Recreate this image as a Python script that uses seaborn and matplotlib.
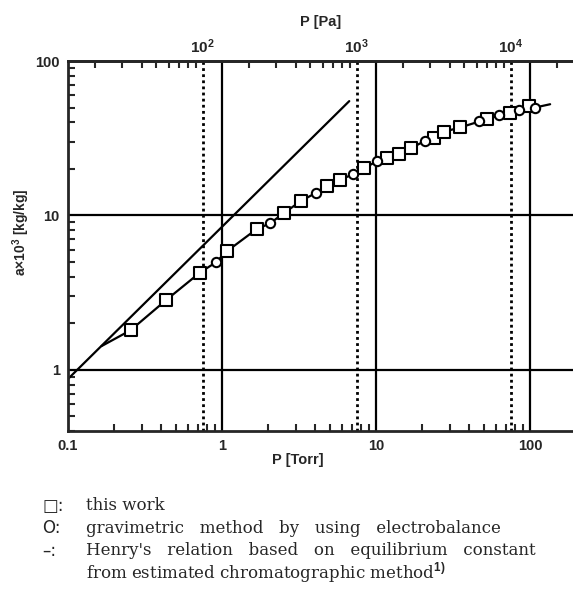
import numpy as np
import pandas as pd
import seaborn as sns
import matplotlib.pyplot as plt
from matplotlib.ticker import LogLocator, NullFormatter, FixedLocator

# this work (squares)
sq_p = [0.255, 0.433, 0.72, 1.08, 1.68, 2.54, 3.26, 4.78, 5.84, 8.36, 11.8, 14.0,
        16.8, 23.8, 27.8, 35.1, 52.3, 74.1, 98.9]
sq_a = [1.80, 2.82, 4.26, 5.87, 8.15, 10.4, 12.4, 15.4, 16.9, 20.2, 23.5, 25.0,
        27.2, 31.9, 34.9, 37.1, 42.2, 46.0, 50.8]
# electrobalance (circles)
ci_p = [0.91, 2.05, 4.08, 7.06, 10.2, 20.8, 46.9, 63.2, 85.3, 108]
ci_a = [4.95, 8.87, 14.0, 18.5, 22.5, 30.4, 40.6, 44.4, 48.3, 50.0]
# line through the data, ends
curve_start = (0.165, 1.42)
curve_end = (135, 52.5)
# Henry's relation
henry_p = [0.1, 6.7]
henry_a = [0.87, 55]

pa_ticks = [1e2, 1e3, 1e4]
torr_ticks = [0.1, 1, 10, 100]
torr_labels = ["0.1", "1", "10", "100"]
a_ticks = [1, 10, 100]
a_labels = ["1", "10", "100"]
legend_lines = [
    ("\u25a1:", "this work"),
    ("O:", "gravimetric   method   by   using   electrobalance"),
    ("\u2013:", "Henry's   relation   based   on   equilibrium   constant"),
    ("", "from estimated chromatographic method$^{1)}$"),
]

TORR2PA = 133.322

sns.set_style("ticks")
plt.rcParams["font.family"] = ["Liberation Sans", "DejaVu Sans"]
plt.rcParams["mathtext.fontset"] = "custom"
plt.rcParams["mathtext.rm"] = "Liberation Sans:bold"
plt.rcParams["mathtext.bf"] = "Liberation Sans:bold"

fig = plt.figure(figsize=(5.73, 5.9), dpi=100)
ax = fig.add_axes([0.1187, 0.2695, 0.8813, 0.627])
ax.set_xscale("log")
ax.set_yscale("log")
ax.set_xlim(0.1, 190)
ax.set_ylim(0.4, 100)

# reference lines
for v in [1, 10, 100]:
    ax.axvline(v, color="black", lw=1.6, zorder=1)
for v in [1, 10]:
    ax.axhline(v, color="black", lw=1.6, zorder=1)
for p in pa_ticks:
    ax.axvline(p / TORR2PA, color="black", lw=2.0, ls=(0, (1, 1.2)), zorder=1)

# curves
sns.lineplot(x=henry_p, y=henry_a, color="black", lw=1.6, ax=ax, zorder=2)
pts = pd.DataFrame({"p": sq_p + ci_p, "a": sq_a + ci_a}).sort_values("p")
curve = pd.concat([pd.DataFrame({"p": [curve_start[0]], "a": [curve_start[1]]}),
                   pts,
                   pd.DataFrame({"p": [curve_end[0]], "a": [curve_end[1]]})])
ax.plot(curve["p"], curve["a"], color="black", lw=1.6, zorder=2)

sns.scatterplot(x=sq_p, y=sq_a, marker="s", s=85, facecolor="white",
                edgecolor="black", linewidth=1.5, ax=ax, zorder=3)
sns.scatterplot(x=ci_p, y=ci_a, marker="o", s=45, facecolor="white",
                edgecolor="black", linewidth=1.5, ax=ax, zorder=4)

# axes styling
for side in ["left", "bottom", "top"]:
    ax.spines[side].set_linewidth(2.0)
ax.spines["right"].set_visible(False)
ax.xaxis.set_major_locator(FixedLocator(torr_ticks))
ax.set_xticklabels(torr_labels)
ax.yaxis.set_major_locator(FixedLocator(a_ticks))
ax.set_yticklabels(a_labels)
ax.xaxis.set_minor_locator(LogLocator(subs=range(2, 10)))
ax.yaxis.set_minor_locator(LogLocator(subs=range(2, 10)))
ax.xaxis.set_minor_formatter(NullFormatter())
ax.yaxis.set_minor_formatter(NullFormatter())
ax.tick_params(which="both", direction="in", width=1.5, top=False, right=False,
               labelsize=10.5)
ax.tick_params(which="major", length=0, pad=6)
ax.tick_params(which="minor", length=5)
for lab in ax.get_xticklabels() + ax.get_yticklabels():
    lab.set_fontweight("bold")

sec = ax.secondary_xaxis("top", functions=(lambda t: t * TORR2PA, lambda p: p / TORR2PA))
sec.spines["top"].set_linewidth(2.0)
sec.xaxis.set_major_locator(FixedLocator(pa_ticks))
sec.set_xticklabels([r"$\mathbf{10^{%d}}$" % int(np.log10(p)) for p in pa_ticks])
sec.xaxis.set_minor_locator(LogLocator(subs=range(2, 10)))
sec.xaxis.set_minor_formatter(NullFormatter())
sec.tick_params(which="both", direction="in", width=1.5, labelsize=11)
sec.tick_params(which="major", length=0, pad=4)
sec.tick_params(which="minor", length=5)

ax.set_xlabel("P [Torr]", fontsize=10.5, fontweight="bold")
sec.set_xlabel("P [Pa]", fontsize=10.5, fontweight="bold", labelpad=8)
ax.set_ylabel(r"a$\times$10$^{3}$ [kg/kg]", fontsize=10, fontweight="bold")
ax.xaxis.set_label_coords(0.455, -0.06)
ax.yaxis.set_label_coords(-0.072, 0.538)

# legend text below the plot
y0 = 1 - 506 / 590
for i, (sym, txt) in enumerate(legend_lines):
    yy = y0 - i * 22.3 / 590
    if sym:
        fig.text(42 / 573, yy, sym, fontsize=12, family="DejaVu Sans", va="center")
    fig.text(86 / 573, yy, txt, fontsize=12, family="DejaVu Serif", va="center")

fig.savefig("out.png", dpi=100, facecolor="white")
